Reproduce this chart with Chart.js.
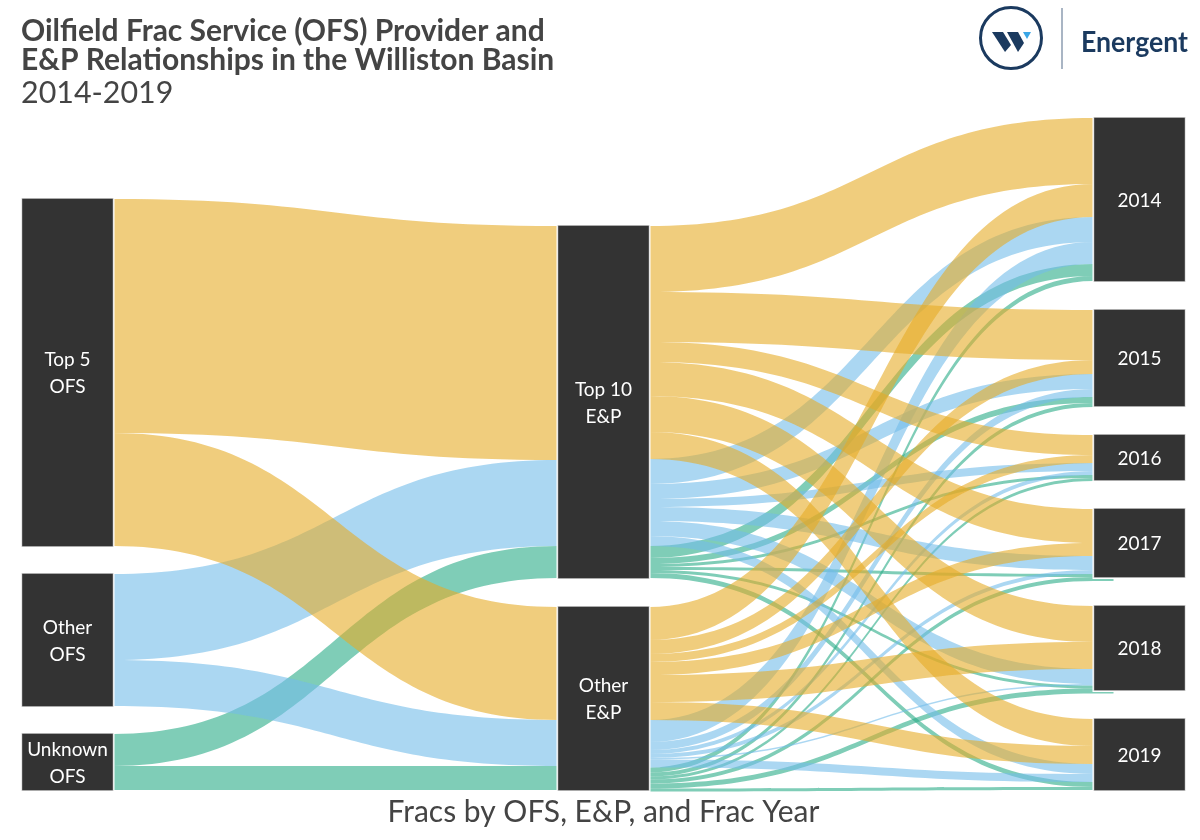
<!DOCTYPE html>
<html><head><meta charset="utf-8"><title>OFS and E&amp;P Sankey</title>
<style>html,body{margin:0;padding:0;background:#fff}canvas{display:block}</style>
<script src="https://cdn.jsdelivr.net/npm/chart.js@4"></script></head>
<body><canvas id="c" width="1200" height="840"></canvas>
<script>
const titleLines = ['Oilfield Frac Service (OFS) Provider and', 'E&P Relationships in the Williston Basin'];
const subtitleText = '2014-2019';
const axisTitle = 'Fracs by OFS, E&P, and Frac Year';

const ofsLabels = [['Top 5', 'OFS'], ['Other', 'OFS'], ['Unknown', 'OFS']];
const epLabels = [['Top 10', 'E&P'], ['Other', 'E&P']];
const yearLabels = ['2014', '2015', '2016', '2017', '2018', '2019'];

const ofsTotals = [347, 132, 56];
const epTotals = [352, 183];
const yearTotals = [163, 96, 45, 68, 84, 71];

const ofsToTop10 = [234, 86, 32];
const ofsToOther = [113, 46, 24];

const top10Gold = [66, 50, 20, 34, 36, 27];
const top10Blue = [25, 15, 8, 14, 15, 10];
const top10Green = [12, 6, 3, 3, 3, 5];
const otherGold = [33, 14, 8, 13, 27, 18];
const otherBlue = [22, 8, 4, 4, 1.5, 8];
const otherGreen = [5, 4, 3, 4, 5, 3];

const GOLD = 'rgba(230,172,38,0.6)', BLUE = 'rgba(115,188,234,0.6)', GREEN = 'rgba(42,172,135,0.6)';
const SCALE_MAX = 672, GAP_L = 28, GAP = 29, HALF = 45, TAIL = 20;

function tops(totals, gap) {
  const sum = totals.reduce((a, b) => a + b, 0) + gap * (totals.length - 1);
  let y = SCALE_MAX - sum;
  return totals.map(v => { const t = y; y += v + gap; return t; });
}
const ofsTops = tops(ofsTotals, GAP_L), epTops = tops(epTotals, GAP), yearTops = tops(yearTotals, GAP);
const nodeData = [];
ofsTotals.forEach((v, i) => nodeData.push({x: 0, y: [ofsTops[i], ofsTops[i] + v], label: ofsLabels[i]}));
epTotals.forEach((v, i) => nodeData.push({x: 1, y: [epTops[i], epTops[i] + v], label: epLabels[i]}));
yearTotals.forEach((v, i) => nodeData.push({x: 2, y: [yearTops[i], yearTops[i] + v], label: [yearLabels[i]]}));

function buildFlows() {
  const ofsCur = ofsTops.slice(), epIn = epTops.slice();
  const colors = [GOLD, BLUE, GREEN];
  const leftFlows = [];
  [ofsToTop10, ofsToOther].forEach((arr, ep) => arr.forEach((v, o) => {
    leftFlows.push({c: 0, y0: ofsCur[o], y1: epIn[ep], v, color: colors[o], rank: o});
    ofsCur[o] += v; epIn[ep] += v;
  }));
  const epOut = epTops.slice(), yrCur = yearTops.slice();
  const groups = [[top10Gold, 0, GOLD, 0], [top10Blue, 0, BLUE, 1], [top10Green, 0, GREEN, 2],
                  [otherGold, 1, GOLD, 0], [otherBlue, 1, BLUE, 1], [otherGreen, 1, GREEN, 2]];
  const rightFlows = [];
  groups.forEach(([arr, ep, color, rank]) => arr.forEach((v, yr) => {
    rightFlows.push({c: 1, y0: epOut[ep], v, color, rank, ep, yr}); epOut[ep] += v;
  }));
  [0, 1, 2].forEach(rank => [0, 1].forEach(ep => rightFlows
    .filter(f => f.rank === rank && f.ep === ep)
    .forEach(f => { f.y1 = yrCur[f.yr]; yrCur[f.yr] += f.v; })));
  return leftFlows.concat(rightFlows).sort((a, b) => b.rank - a.rank);
}
const flows = buildFlows();

const sankeyPlugin = {
  id: 'sankey',
  beforeDatasetsDraw(chart) {
    const {ctx, scales: {x, y}} = chart;
    flows.forEach(f => {
      const xa = x.getPixelForValue(f.c) + HALF + 1, xb = x.getPixelForValue(f.c + 1) - HALF - 1;
      const xm = (xa + xb) / 2;
      const a0 = y.getPixelForValue(f.y0), a1 = y.getPixelForValue(f.y0 + f.v);
      const b0 = y.getPixelForValue(f.y1), b1 = y.getPixelForValue(f.y1 + f.v);
      ctx.beginPath();
      ctx.moveTo(xa - TAIL, a0); ctx.lineTo(xa, a0);
      ctx.bezierCurveTo(xm, a0, xm, b0, xb, b0);
      ctx.lineTo(xb + TAIL, b0); ctx.lineTo(xb + TAIL, b1); ctx.lineTo(xb, b1);
      ctx.bezierCurveTo(xm, b1, xm, a1, xa, a1);
      ctx.lineTo(xa - TAIL, a1);
      ctx.closePath();
      ctx.fillStyle = f.color; ctx.fill();
    });
    chart.getDatasetMeta(0).data.forEach(b => {
      const top = Math.min(b.y, b.base), h = Math.abs(b.y - b.base);
      ctx.fillStyle = '#fff';
      ctx.fillRect(b.x - HALF - 2, top - 2, HALF * 2 + 4, h + 4);
      ctx.strokeStyle = '#d4d4d4'; ctx.lineWidth = 1;
      ctx.strokeRect(b.x - HALF - 0.5, top - 0.5, HALF * 2 + 1, h + 1);
    });
  },
  afterDatasetsDraw(chart) {
    const {ctx} = chart;
    ctx.save();
    ctx.font = '19px Lato'; ctx.fillStyle = '#fff';
    ctx.textAlign = 'center'; ctx.textBaseline = 'middle';
    chart.getDatasetMeta(0).data.forEach((b, i) => {
      const lines = nodeData[i].label, cy = (b.y + b.base) / 2 + 1;
      lines.forEach((t, k) => ctx.fillText(t, b.x, cy + (k - (lines.length - 1) / 2) * 27));
    });
    ctx.restore();
  },
  afterDraw(chart) {
    const {ctx} = chart;
    ctx.save();
    ctx.strokeStyle = '#1b3a5f'; ctx.lineWidth = 3;
    ctx.beginPath(); ctx.arc(1011, 38, 30.5, 0, Math.PI * 2); ctx.stroke();
    ctx.fillStyle = '#1b3a5f';
    [[[992, 32], [1003, 32], [1011, 45], [1005, 52]], [[1007, 32], [1018, 32], [1024, 43], [1018, 52]]].forEach(p => {
      ctx.beginPath(); p.forEach((q, i) => i ? ctx.lineTo(q[0], q[1]) : ctx.moveTo(q[0], q[1])); ctx.closePath(); ctx.fill();
    });
    ctx.fillStyle = '#3aa6e6';
    ctx.beginPath(); ctx.moveTo(1023, 32); ctx.lineTo(1031, 32); ctx.lineTo(1027, 39); ctx.closePath(); ctx.fill();
    ctx.strokeStyle = '#8d9cb0'; ctx.lineWidth = 1.5;
    ctx.beginPath(); ctx.moveTo(1062, 8); ctx.lineTo(1062, 69); ctx.stroke();
    ctx.fillStyle = '#1b3a5f'; ctx.font = 'bold 29px Lato'; ctx.textAlign = 'left'; ctx.textBaseline = 'middle';
    ctx.fillText('Energent', 1081, 43, 107);
    ctx.restore();
  }
};

new Chart(document.getElementById('c'), {
  type: 'bar',
  plugins: [sankeyPlugin],
  data: {datasets: [{data: nodeData, backgroundColor: '#333333', borderWidth: 0, barThickness: HALF * 2, clip: false}]},
  options: {
    responsive: false, animation: false,
    layout: {padding: {left: 21, right: 14, top: 0, bottom: 0}},
    scales: {
      x: {type: 'linear', offset: false, min: -46.5 / 536, max: 1118.5 / 536,
          grid: {display: false, drawTicks: false}, border: {display: false},
          ticks: {display: false},
          title: {display: true, text: axisTitle, color: '#444', font: {family: 'Lato', size: 30, lineHeight: 1.2}, padding: {top: 4, bottom: 10}}},
      y: {display: false, reverse: true, min: 0, max: SCALE_MAX}
    },
    plugins: {
      legend: {display: false}, tooltip: {enabled: false},
      title: {display: true, text: titleLines, align: 'start', color: '#444',
              font: {family: 'Lato', size: 30, weight: 'bold', lineHeight: 0.96}, padding: {top: 17, bottom: 3}},
      subtitle: {display: true, text: subtitleText, align: 'start', color: '#444',
              font: {family: 'Lato', size: 30.4, weight: 'normal', lineHeight: 1.0}, padding: {top: 0, bottom: 10}}
    }
  }
});
</script></body></html>
